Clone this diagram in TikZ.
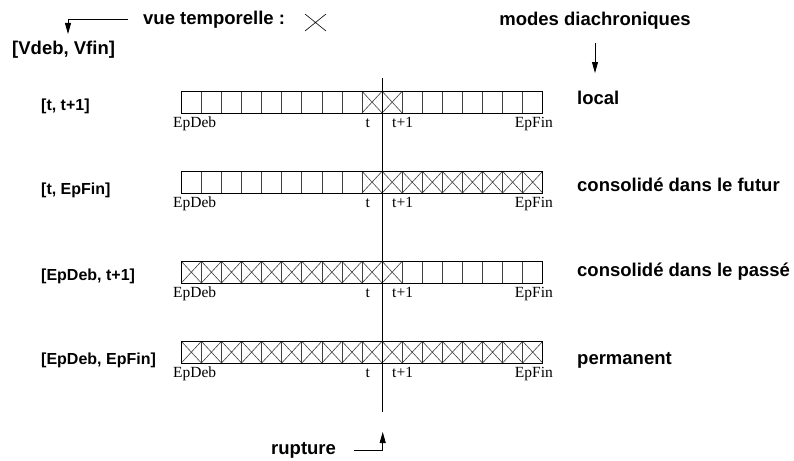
\documentclass[tikz,border=0pt]{standalone}
\usepackage{fontspec}
\setmainfont{Liberation Serif}
\newfontfamily\hsans{Liberation Sans}
\usetikzlibrary{arrows.meta}
\begin{document}
\begin{tikzpicture}[x=1pt,y=-1pt,
  big/.style={font=\hsans\bfseries\fontsize{18.5}{20}\selectfont, inner sep=0pt},
  small/.style={font=\hsans\bfseries\fontsize{16}{18}\selectfont, inner sep=0pt, anchor=base west},
  tick/.style={font=\fontsize{15.5}{17}\selectfont, inner sep=0pt},
  cellbox/.style={draw=black!75, line width=0.6pt},
  frame/.style={draw=black, line width=0.8pt},
  arr/.style={line width=0.8pt, -{Triangle[length=11pt,width=6pt]}},
]
\useasboundingbox (0,0) rectangle (794,460);

% headings
\node[big, anchor=base west] (vue) at (143,25) {vue temporelle :};
\draw[line width=0.6pt] (305,14) -- (326,31) (326,14) -- (305,31);
\node[big, anchor=base west] (vdeb) at (12,55) {[Vdeb, Vfin]};
\coordinate (va) at (128,19);
\coordinate (vb) at (68,34);
\draw[arr] (va) -| (vb);
\node[big, anchor=base] (modes) at (595,26) {modes diachroniques};
\coordinate (ma) at (595,43);
\coordinate (mb) at (595,73);
\draw[arr] (ma) -- (mb);

% bars
\foreach \r/\top/\a/\b in {1/91.3/9/10, 2/171.3/9/17, 3/261.3/0/10, 4/341.3/0/17}{
  \foreach \i in {0,...,17}{
    \pgfmathsetmacro{\xx}{181.3+\i*20.08}
    \draw[cellbox] (\xx,\top) rectangle ++(20.08,21.7);
  }
  \foreach \i in {\a,...,\b}{
    \pgfmathsetmacro{\xx}{181.3+\i*20.08}
    \draw[cellbox] (\xx,\top) -- ++(20.08,21.7) ++(0,-21.7) -- ++(-20.08,21.7);
  }
  \draw[frame] (181.3,\top) rectangle (542.7,\top+21.7);
  \pgfmathsetmacro{\bl}{\top+21.7+14.5}
  \node[tick, anchor=base west] (epdeb\r) at (173,\bl) {EpDeb};
  \node[tick, anchor=base east] (t\r) at (370,\bl) {t};
  \node[tick, anchor=base west] (tp\r) at (392,\bl) {t+1};
  \node[tick, anchor=base east] (epfin\r) at (553,\bl) {EpFin};
}

% left labels
\node[small] (l1) at (41,110) {[t, t+1]};
\node[small] (l2) at (41,194) {[t, EpFin]};
\node[small] (l3) at (41,280) {[EpDeb, t+1]};
\node[small] (l4) at (41,364) {[EpDeb, EpFin]};

% right labels
\node[big, anchor=base west] (r1) at (577,104) {local};
\node[big, anchor=base west] (r2) at (577,191) {consolidé dans le futur};
\node[big, anchor=base west] (r3) at (577,276) {consolidé dans le passé};
\node[big, anchor=base west] (r4) at (577,364) {permanent};

% rupture line
\coordinate (vtop) at (382,78);
\coordinate (vbot) at (382,412);
\draw[line width=1pt] (vtop) -- (vbot);
\node[big, anchor=base west] (rup) at (271,454) {rupture};
\coordinate (ra) at (354,450);
\coordinate (rb) at (382.7,432);
\draw[arr] (ra) -| (rb);
\end{tikzpicture}
\end{document}
